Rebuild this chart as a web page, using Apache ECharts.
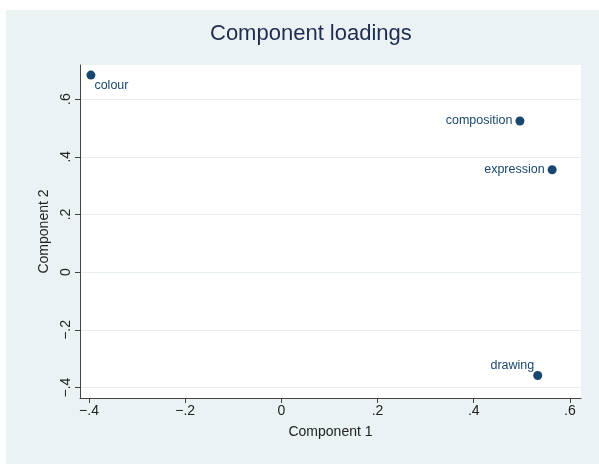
<!DOCTYPE html>
<html>
<head>
<meta charset="utf-8">
<script src="https://cdn.jsdelivr.net/npm/echarts@6/dist/echarts.min.js"></script>
<style>
  html, body { margin: 0; padding: 0; background: #fff; }
  #main { width: 599px; height: 464px; }
</style>
</head>
<body>
<div id="main"></div>
<script>
// component loadings
var names = ['colour', 'composition', 'expression', 'drawing'];
var comp1 = [-0.396, 0.496, 0.563, 0.533];
var comp2 = [0.683, 0.524, 0.355, -0.358];
var xTicks = [-0.4, -0.2, 0, 0.2, 0.4, 0.6];
var yTicks = [-0.4, -0.2, 0, 0.2, 0.4, 0.6];

var navy = '#1a476f';
var font = 'Liberation Sans, Arial, Helvetica, sans-serif';

// where each marker label sits
var labelPlace = {
  colour:      { position: 'right', offset: [-6, 10] },
  composition: { position: 'left', distance: 3 },
  expression:  { position: 'left', distance: 3 },
  drawing:     { position: 'left', distance: 3, offset: [4, -10] }
};

function fmt(v) {
  v = Math.round(v * 10) / 10;
  if (v === 0) return '0';
  var s = Math.abs(v).toString().replace(/^0/, '');
  return (v < 0 ? '\u2212' : '') + s;
}

var points = [];
for (var i = 0; i < names.length; i++) {
  var pl = labelPlace[names[i]];
  points.push({
    name: names[i],
    value: [comp1[i], comp2[i]],
    label: {
      show: true,
      position: pl.position,
      distance: pl.distance || 5,
      offset: pl.offset || [0, 0]
    }
  });
}

var chart = echarts.init(document.getElementById('main'), null, { renderer: 'canvas' });
var option = {
  backgroundColor: '#ffffff',
  animation: false,
  graphic: [{
    type: 'rect',
    z: -10,
    shape: { x: 6, y: 10, width: 599, height: 464 },
    style: { fill: '#eaf2f3' }
  }],
  title: {
    text: 'Component loadings',
    left: 205,
    top: 18,
    textStyle: { fontFamily: font, fontSize: 22, fontWeight: 'normal', color: '#1e2d50' }
  },
  grid: {
    left: 80, right: 18, top: 65, bottom: 66,
    show: true, backgroundColor: '#ffffff', borderWidth: 0
  },
  xAxis: {
    type: 'value',
    min: -0.4187, max: 0.623,
    name: 'Component 1',
    nameLocation: 'middle',
    nameGap: 27,
    nameTextStyle: { fontFamily: font, fontSize: 14, color: '#222' },
    axisLine: { show: true, onZero: false, lineStyle: { color: '#444', width: 1 } },
    axisTick: { show: true, length: 5, customValues: xTicks, lineStyle: { color: '#444' } },
    axisLabel: { customValues: xTicks, formatter: fmt, fontFamily: font, fontSize: 14, color: '#222', margin: 6 },
    splitLine: { show: false }
  },
  yAxis: {
    type: 'value',
    min: -0.436, max: 0.718,
    name: 'Component 2',
    nameLocation: 'middle',
    nameGap: 28,
    nameTextStyle: { fontFamily: font, fontSize: 14, color: '#222' },
    axisLine: { show: true, onZero: false, lineStyle: { color: '#444', width: 1 } },
    axisTick: { show: true, length: 5, customValues: yTicks, lineStyle: { color: '#444' } },
    axisLabel: { customValues: yTicks, formatter: fmt, rotate: 90, fontFamily: font, fontSize: 14, color: '#222', margin: 7 },
    splitLine: { show: false }
  },
  series: [{
    type: 'scatter',
    symbol: 'circle',
    symbolSize: 9,
    itemStyle: { color: navy, opacity: 1 },
    label: {
      formatter: '{b}',
      fontFamily: font,
      fontSize: 12.5,
      color: navy
    },
    data: points,
    markLine: {
      silent: true,
      symbol: 'none',
      z: 0,
      label: { show: false },
      lineStyle: { color: '#e6eef0', width: 1, type: 'solid' },
      data: yTicks.map(function (v) { return { yAxis: v }; })
    }
  }]
};
chart.setOption(option);
</script>
</body>
</html>
